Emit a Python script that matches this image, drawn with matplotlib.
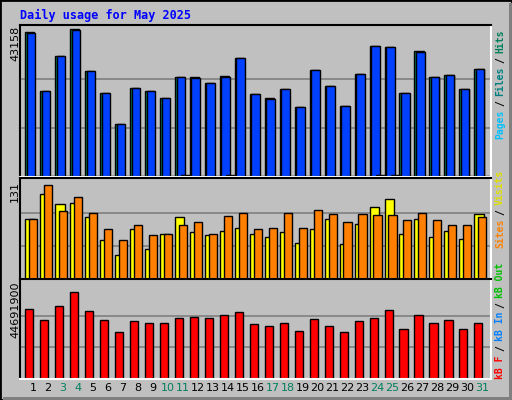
import numpy as np
import matplotlib
matplotlib.use("Agg")
import matplotlib.pyplot as plt
from matplotlib.patches import Rectangle

W, H = 512, 400

days = np.arange(1, 32)
weekend = [3, 4, 10, 11, 17, 18, 24, 25, 31]

hits_max = 43158
vis_max = 131
kb_max = 44691900

# values
hits = [42300, 25100, 35300, 43158, 30900, 24700, 15400, 26000, 25100, 23100,
        29200, 29200, 27500, 29500, 34700, 24200, 23100, 25700, 20400, 31200,
        26600, 20900, 30000, 38300, 38100, 24700, 36900, 29200, 29900, 25700,
        31500]
files = [42000, 25100, 35300, 43000, 30900, 24700, 15400, 26000, 25100, 23100,
         29200, 28900, 27500, 29200, 34700, 24200, 22800, 25700, 20400, 31200,
         26600, 20900, 30000, 38300, 38100, 24700, 36600, 29200, 29900, 25700,
         31500]
pages = [250, 250, 250, 250, 250, 250, 250, 250, 250, 250,
         700, 250, 250, 700, 250, 250, 250, 250, 250, 250,
         250, 250, 250, 700, 700, 250, 250, 250, 250, 250,
         250]
visits = [80, 112, 99, 101, 82, 51, 32, 66, 40, 59,
          82, 62, 58, 64, 68, 59, 56, 62, 48, 66,
          80, 46, 73, 95, 106, 60, 80, 56, 64, 53,
          86]
sites = [79, 125, 90, 108, 87, 66, 52, 71, 58, 60,
         71, 76, 59, 84, 87, 66, 68, 87, 68, 91,
         86, 75, 86, 85, 85, 78, 87, 78, 72, 71,
         82]
kbytes = [32900, 27700, 34400, 41000, 31800, 27700, 22200, 27300, 26500, 26200,
          28800, 29100, 28800, 29900, 31400, 25800, 25100, 26500, 22600, 28000,
          25100, 22200, 27000, 28800, 32500, 23300, 29900, 26500, 27700, 23300,
          26500]
kbytes = [v * 1000 for v in kbytes]

fig = plt.figure(figsize=(W / 100, H / 100), dpi=100)
fig.patch.set_facecolor("#C0C0C0")

# outer frame
fig.add_artist(Rectangle((0, 0), 1, 1, transform=fig.transFigure, fill=False,
                         edgecolor="black", lw=2))
fig.add_artist(Rectangle((509 / W, 0), 3 / W, 1 - 3 / H, transform=fig.transFigure,
                         color="#808080", lw=0))
fig.add_artist(Rectangle((3 / W, 0), 1 - 3 / W, 3 / H, transform=fig.transFigure,
                         color="#808080", lw=0))


def px_axes(x0, y0, x1, y1):
    return fig.add_axes([x0 / W, 1 - y1 / H, (x1 - x0) / W, (y1 - y0) / H])


x_lo, x_hi = 0.13, 31.58


def style(ax, vmax, top):
    ax.set_facecolor("#C0C0C0")
    ax.set_xlim(x_lo, x_hi)
    ax.set_ylim(0, vmax * top)
    ax.set_xticks([])
    ax.set_yticks([])
    for y in (vmax / 3, vmax * 2 / 3):
        ax.axhline(y, color="#808080", lw=1.2, zorder=0)
    for s in ("left", "top"):
        ax.spines[s].set_color("black")
    for s in ("right", "bottom"):
        ax.spines[s].set_color("white")
    for s in ax.spines.values():
        s.set_linewidth(1.5)


bar_kw = dict(edgecolor="black", linewidth=1, align="edge")

ax1 = px_axes(20, 25, 491, 177)
style(ax1, hits_max, 1.03)
d = np.array(days)
ax1.bar(d - 0.53, hits, width=0.62, color="#00805C", **bar_kw)
ax1.bar(d - 0.42, files, width=0.56, color="#0040FF", **bar_kw)
ax1.bar(d - 0.1, pages, width=0.6, color="#00C0FF", **bar_kw)

ax2 = px_axes(20, 178, 491, 279)
style(ax2, vis_max, 1.02)
ax2.bar(d - 0.53, visits, width=0.64, color="#FFFF00", **bar_kw)
ax2.bar(d - 0.27, sites, width=0.54, color="#FF8000", **bar_kw)

ax3 = px_axes(20, 279, 491, 379)
style(ax3, kb_max, 1.05)
ax3.bar(d - 0.53, kbytes, width=0.54, color="#FF0000", **bar_kw)

mono = dict(family="DejaVu Sans Mono", fontweight="bold")

fig.text(20 / W, 1 - 15 / H, "Daily usage for May 2025", color="#0000FF",
         fontsize=8.5, va="center", ha="left", **mono)

for ytop, s in ((26, "43158"), (181, "131"), (281, "44691900")):
    fig.text(15 / W, 1 - ytop / H, s, rotation=90, fontsize=8, va="top",
             ha="center", family="DejaVu Sans")

fig.canvas.draw()
for day in days:
    xpix = ax3.transData.transform((day, 0))[0]
    fig.text(xpix / fig.bbox.width, 1 - 388 / H, str(day), ha="center", va="center",
             fontsize=8, color="#00805C" if day in weekend else "black",
             family="DejaVu Sans")


def side_label(parts, ybottom):
    y = ybottom
    for text, color in parts:
        h = len(text) * 5.4
        fig.text(500 / W, 1 - (y - h / 2) / H, text, rotation=90, color=color,
                 fontsize=7, ha="center", va="center", **mono)
        y -= h + 5.4


side_label([("Pages", "#00C0FF"), ("/", "black"), ("Files", "#008080"),
            ("/", "black"), ("Hits", "#00805C")], 138)
side_label([("Sites", "#FF8000"), ("/", "black"), ("Visits", "#E0E000")], 247)
side_label([("kB F", "#FF0000"), ("/", "black"), ("kB In", "#0080FF"),
            ("/", "black"), ("kB Out", "#00C000")], 378)

fig.savefig("out.png", dpi=100, facecolor=fig.get_facecolor())
